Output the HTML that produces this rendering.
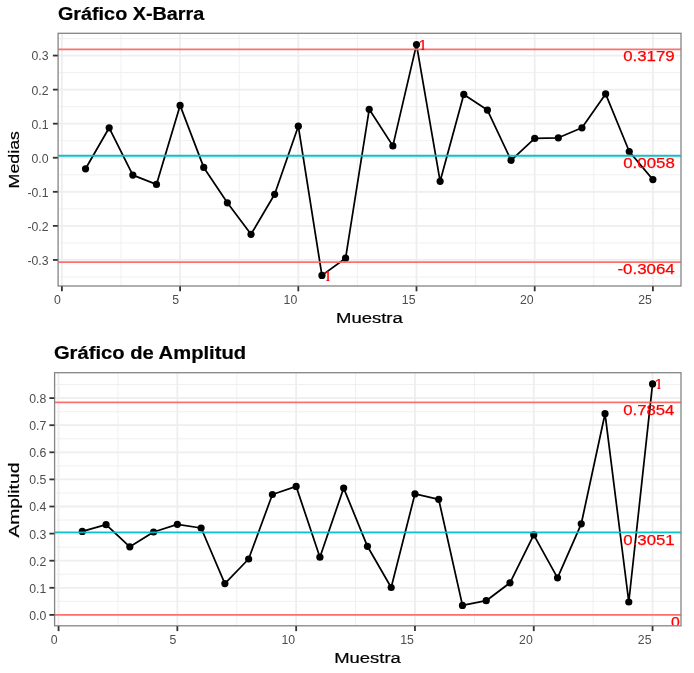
<!DOCTYPE html>
<html lang="es"><head><meta charset="utf-8"><title>Gráficos de control</title>
<style>
html,body{margin:0;padding:0;background:#fff;}
body{width:694px;height:673px;overflow:hidden;}
svg{display:block;font-family:"Liberation Sans", Arial, sans-serif;}
svg text{font-family:"Liberation Sans", Arial, sans-serif;}
</style></head><body>
<svg width="694" height="673" viewBox="0 0 694 673">
<rect width="694" height="673" fill="#fff"/>
<clipPath id="clip1"><rect x="58.10" y="33.30" width="622.90" height="252.70"/></clipPath>
<g clip-path="url(#clip1)">
<line x1="58.10" y1="276.96" x2="681.00" y2="276.96" stroke="#EEEEEE" stroke-width="0.9" />
<line x1="58.10" y1="242.90" x2="681.00" y2="242.90" stroke="#EEEEEE" stroke-width="0.9" />
<line x1="58.10" y1="208.84" x2="681.00" y2="208.84" stroke="#EEEEEE" stroke-width="0.9" />
<line x1="58.10" y1="174.78" x2="681.00" y2="174.78" stroke="#EEEEEE" stroke-width="0.9" />
<line x1="58.10" y1="140.72" x2="681.00" y2="140.72" stroke="#EEEEEE" stroke-width="0.9" />
<line x1="58.10" y1="106.66" x2="681.00" y2="106.66" stroke="#EEEEEE" stroke-width="0.9" />
<line x1="58.10" y1="72.60" x2="681.00" y2="72.60" stroke="#EEEEEE" stroke-width="0.9" />
<line x1="58.10" y1="38.54" x2="681.00" y2="38.54" stroke="#EEEEEE" stroke-width="0.9" />
<line x1="121.00" y1="33.30" x2="121.00" y2="286.00" stroke="#EEEEEE" stroke-width="0.9" />
<line x1="239.20" y1="33.30" x2="239.20" y2="286.00" stroke="#EEEEEE" stroke-width="0.9" />
<line x1="357.40" y1="33.30" x2="357.40" y2="286.00" stroke="#EEEEEE" stroke-width="0.9" />
<line x1="475.60" y1="33.30" x2="475.60" y2="286.00" stroke="#EEEEEE" stroke-width="0.9" />
<line x1="593.80" y1="33.30" x2="593.80" y2="286.00" stroke="#EEEEEE" stroke-width="0.9" />
<line x1="58.10" y1="259.93" x2="681.00" y2="259.93" stroke="#EEEEEE" stroke-width="1.8" />
<line x1="58.10" y1="225.87" x2="681.00" y2="225.87" stroke="#EEEEEE" stroke-width="1.8" />
<line x1="58.10" y1="191.81" x2="681.00" y2="191.81" stroke="#EEEEEE" stroke-width="1.8" />
<line x1="58.10" y1="157.75" x2="681.00" y2="157.75" stroke="#EEEEEE" stroke-width="1.8" />
<line x1="58.10" y1="123.69" x2="681.00" y2="123.69" stroke="#EEEEEE" stroke-width="1.8" />
<line x1="58.10" y1="89.63" x2="681.00" y2="89.63" stroke="#EEEEEE" stroke-width="1.8" />
<line x1="58.10" y1="55.57" x2="681.00" y2="55.57" stroke="#EEEEEE" stroke-width="1.8" />
<line x1="61.90" y1="33.30" x2="61.90" y2="286.00" stroke="#EEEEEE" stroke-width="1.8" />
<line x1="180.10" y1="33.30" x2="180.10" y2="286.00" stroke="#EEEEEE" stroke-width="1.8" />
<line x1="298.30" y1="33.30" x2="298.30" y2="286.00" stroke="#EEEEEE" stroke-width="1.8" />
<line x1="416.50" y1="33.30" x2="416.50" y2="286.00" stroke="#EEEEEE" stroke-width="1.8" />
<line x1="534.70" y1="33.30" x2="534.70" y2="286.00" stroke="#EEEEEE" stroke-width="1.8" />
<line x1="652.90" y1="33.30" x2="652.90" y2="286.00" stroke="#EEEEEE" stroke-width="1.8" />
<path d="M85.54,168.80 L109.18,127.80 L132.82,175.10 L156.46,184.40 L180.10,105.40 L203.74,167.40 L227.38,202.80 L251.02,234.30 L274.66,194.30 L298.30,126.20 L321.94,275.40 L345.58,258.20 L369.22,109.30 L392.86,145.90 L416.50,44.60 L440.14,181.30 L463.78,94.40 L487.42,110.10 L511.06,160.30 L534.70,138.40 L558.34,137.80 L581.98,127.80 L605.62,93.90 L629.26,151.50 L652.90,179.60" fill="none" stroke="#000" stroke-width="1.75" stroke-linejoin="round" stroke-linecap="butt"/>
<circle cx="85.54" cy="168.80" r="3.6" fill="#000"/>
<circle cx="109.18" cy="127.80" r="3.6" fill="#000"/>
<circle cx="132.82" cy="175.10" r="3.6" fill="#000"/>
<circle cx="156.46" cy="184.40" r="3.6" fill="#000"/>
<circle cx="180.10" cy="105.40" r="3.6" fill="#000"/>
<circle cx="203.74" cy="167.40" r="3.6" fill="#000"/>
<circle cx="227.38" cy="202.80" r="3.6" fill="#000"/>
<circle cx="251.02" cy="234.30" r="3.6" fill="#000"/>
<circle cx="274.66" cy="194.30" r="3.6" fill="#000"/>
<circle cx="298.30" cy="126.20" r="3.6" fill="#000"/>
<circle cx="321.94" cy="275.40" r="3.6" fill="#000"/>
<circle cx="345.58" cy="258.20" r="3.6" fill="#000"/>
<circle cx="369.22" cy="109.30" r="3.6" fill="#000"/>
<circle cx="392.86" cy="145.90" r="3.6" fill="#000"/>
<circle cx="416.50" cy="44.60" r="3.6" fill="#000"/>
<circle cx="440.14" cy="181.30" r="3.6" fill="#000"/>
<circle cx="463.78" cy="94.40" r="3.6" fill="#000"/>
<circle cx="487.42" cy="110.10" r="3.6" fill="#000"/>
<circle cx="511.06" cy="160.30" r="3.6" fill="#000"/>
<circle cx="534.70" cy="138.40" r="3.6" fill="#000"/>
<circle cx="558.34" cy="137.80" r="3.6" fill="#000"/>
<circle cx="581.98" cy="127.80" r="3.6" fill="#000"/>
<circle cx="605.62" cy="93.90" r="3.6" fill="#000"/>
<circle cx="629.26" cy="151.50" r="3.6" fill="#000"/>
<circle cx="652.90" cy="179.60" r="3.6" fill="#000"/>
<line x1="58.10" y1="49.40" x2="681.00" y2="49.40" stroke="#FC6964" stroke-width="1.75" stroke-opacity="0.95"/>
<line x1="58.10" y1="262.10" x2="681.00" y2="262.10" stroke="#FC6964" stroke-width="1.75" stroke-opacity="0.95"/>
<line x1="58.10" y1="155.70" x2="681.00" y2="155.70" stroke="#00BFC4" stroke-width="1.85" stroke-opacity="0.95"/>
<text x="623.20" y="61.45" font-size="15.4" fill="#FF0000" text-anchor="start" font-weight="normal" stroke="#FF0000" stroke-width="0.25" textLength="51.50" lengthAdjust="spacingAndGlyphs" >0.3179</text>
<text x="623.20" y="167.65" font-size="15.4" fill="#FF0000" text-anchor="start" font-weight="normal" stroke="#FF0000" stroke-width="0.25" textLength="51.60" lengthAdjust="spacingAndGlyphs" >0.0058</text>
<text x="617.40" y="274.25" font-size="15.4" fill="#FF0000" text-anchor="start" font-weight="normal" stroke="#FF0000" stroke-width="0.25" textLength="57.40" lengthAdjust="spacingAndGlyphs" >-0.3064</text>
<clipPath id="c_o1a"><polygon points="417.50,35.95 424.25,35.95 424.25,50.95 421.50,50.95 421.50,48.25 417.50,48.25"/></clipPath>
<text x="418.40" y="49.95" font-size="15.4" fill="#FF0000" text-anchor="start" font-weight="normal" stroke="#FF0000" stroke-width="0.2" clip-path="url(#c_o1a)">1</text>
<clipPath id="c_o1b"><polygon points="322.50,266.80 329.25,266.80 329.25,281.80 326.50,281.80 326.50,279.10 322.50,279.10"/></clipPath>
<text x="323.40" y="280.80" font-size="15.4" fill="#FF0000" text-anchor="start" font-weight="normal" stroke="#FF0000" stroke-width="0.2" clip-path="url(#c_o1b)">1</text>
</g>
<rect x="58.10" y="33.30" width="622.90" height="252.70" fill="none" stroke="#858585" stroke-width="1.3"/>
<line x1="52.90" y1="259.93" x2="57.80" y2="259.93" stroke="#333333" stroke-width="1.8" />
<text x="27.41" y="264.83" font-size="13.0" fill="#4D4D4D" text-anchor="start" font-weight="normal" stroke="#4D4D4D" stroke-width="0" textLength="21.19" lengthAdjust="spacingAndGlyphs" >-0.3</text>
<line x1="52.90" y1="225.87" x2="57.80" y2="225.87" stroke="#333333" stroke-width="1.8" />
<text x="27.41" y="230.77" font-size="13.0" fill="#4D4D4D" text-anchor="start" font-weight="normal" stroke="#4D4D4D" stroke-width="0" textLength="21.19" lengthAdjust="spacingAndGlyphs" >-0.2</text>
<line x1="52.90" y1="191.81" x2="57.80" y2="191.81" stroke="#333333" stroke-width="1.8" />
<text x="27.41" y="196.71" font-size="13.0" fill="#4D4D4D" text-anchor="start" font-weight="normal" stroke="#4D4D4D" stroke-width="0" textLength="21.19" lengthAdjust="spacingAndGlyphs" >-0.1</text>
<line x1="52.90" y1="157.75" x2="57.80" y2="157.75" stroke="#333333" stroke-width="1.8" />
<text x="31.50" y="162.65" font-size="13.0" fill="#4D4D4D" text-anchor="start" font-weight="normal" stroke="#4D4D4D" stroke-width="0" textLength="17.10" lengthAdjust="spacingAndGlyphs" >0.0</text>
<line x1="52.90" y1="123.69" x2="57.80" y2="123.69" stroke="#333333" stroke-width="1.8" />
<text x="31.50" y="128.59" font-size="13.0" fill="#4D4D4D" text-anchor="start" font-weight="normal" stroke="#4D4D4D" stroke-width="0" textLength="17.10" lengthAdjust="spacingAndGlyphs" >0.1</text>
<line x1="52.90" y1="89.63" x2="57.80" y2="89.63" stroke="#333333" stroke-width="1.8" />
<text x="31.50" y="94.53" font-size="13.0" fill="#4D4D4D" text-anchor="start" font-weight="normal" stroke="#4D4D4D" stroke-width="0" textLength="17.10" lengthAdjust="spacingAndGlyphs" >0.2</text>
<line x1="52.90" y1="55.57" x2="57.80" y2="55.57" stroke="#333333" stroke-width="1.8" />
<text x="31.50" y="60.47" font-size="13.0" fill="#4D4D4D" text-anchor="start" font-weight="normal" stroke="#4D4D4D" stroke-width="0" textLength="17.10" lengthAdjust="spacingAndGlyphs" >0.3</text>
<line x1="61.90" y1="286.30" x2="61.90" y2="291.30" stroke="#333333" stroke-width="1.8" />
<text x="54.06" y="304.30" font-size="13.0" fill="#4D4D4D" text-anchor="start" font-weight="normal" stroke="#4D4D4D" stroke-width="0" textLength="6.84" lengthAdjust="spacingAndGlyphs" >0</text>
<line x1="180.10" y1="286.30" x2="180.10" y2="291.30" stroke="#333333" stroke-width="1.8" />
<text x="172.26" y="304.30" font-size="13.0" fill="#4D4D4D" text-anchor="start" font-weight="normal" stroke="#4D4D4D" stroke-width="0" textLength="6.84" lengthAdjust="spacingAndGlyphs" >5</text>
<line x1="298.30" y1="286.30" x2="298.30" y2="291.30" stroke="#333333" stroke-width="1.8" />
<text x="283.62" y="304.30" font-size="13.0" fill="#4D4D4D" text-anchor="start" font-weight="normal" stroke="#4D4D4D" stroke-width="0" textLength="13.68" lengthAdjust="spacingAndGlyphs" >10</text>
<line x1="416.50" y1="286.30" x2="416.50" y2="291.30" stroke="#333333" stroke-width="1.8" />
<text x="401.82" y="304.30" font-size="13.0" fill="#4D4D4D" text-anchor="start" font-weight="normal" stroke="#4D4D4D" stroke-width="0" textLength="13.68" lengthAdjust="spacingAndGlyphs" >15</text>
<line x1="534.70" y1="286.30" x2="534.70" y2="291.30" stroke="#333333" stroke-width="1.8" />
<text x="520.02" y="304.30" font-size="13.0" fill="#4D4D4D" text-anchor="start" font-weight="normal" stroke="#4D4D4D" stroke-width="0" textLength="13.68" lengthAdjust="spacingAndGlyphs" >20</text>
<line x1="652.90" y1="286.30" x2="652.90" y2="291.30" stroke="#333333" stroke-width="1.8" />
<text x="638.22" y="304.30" font-size="13.0" fill="#4D4D4D" text-anchor="start" font-weight="normal" stroke="#4D4D4D" stroke-width="0" textLength="13.68" lengthAdjust="spacingAndGlyphs" >25</text>
<text x="57.90" y="19.80" font-size="18.7" fill="#000" text-anchor="start" font-weight="bold" stroke="#000" stroke-width="0.2" textLength="146.40" lengthAdjust="spacingAndGlyphs" >Gráfico X-Barra</text>
<text x="19.00" y="188.40" font-size="15.5" fill="#000" text-anchor="start" font-weight="normal" stroke="#000" stroke-width="0.2" textLength="57.40" lengthAdjust="spacingAndGlyphs" transform="rotate(-90 19.00 188.40)" >Medias</text>
<text x="336.00" y="323.30" font-size="15.5" fill="#000" text-anchor="start" font-weight="normal" stroke="#000" stroke-width="0.2" textLength="66.70" lengthAdjust="spacingAndGlyphs" >Muestra</text>
<clipPath id="clip2"><rect x="54.60" y="372.70" width="626.40" height="253.10"/></clipPath>
<g clip-path="url(#clip2)">
<line x1="54.60" y1="601.35" x2="681.00" y2="601.35" stroke="#EEEEEE" stroke-width="0.9" />
<line x1="54.60" y1="574.25" x2="681.00" y2="574.25" stroke="#EEEEEE" stroke-width="0.9" />
<line x1="54.60" y1="547.15" x2="681.00" y2="547.15" stroke="#EEEEEE" stroke-width="0.9" />
<line x1="54.60" y1="520.05" x2="681.00" y2="520.05" stroke="#EEEEEE" stroke-width="0.9" />
<line x1="54.60" y1="492.95" x2="681.00" y2="492.95" stroke="#EEEEEE" stroke-width="0.9" />
<line x1="54.60" y1="465.85" x2="681.00" y2="465.85" stroke="#EEEEEE" stroke-width="0.9" />
<line x1="54.60" y1="438.75" x2="681.00" y2="438.75" stroke="#EEEEEE" stroke-width="0.9" />
<line x1="54.60" y1="411.65" x2="681.00" y2="411.65" stroke="#EEEEEE" stroke-width="0.9" />
<line x1="54.60" y1="384.55" x2="681.00" y2="384.55" stroke="#EEEEEE" stroke-width="0.9" />
<line x1="117.95" y1="372.70" x2="117.95" y2="625.80" stroke="#EEEEEE" stroke-width="0.9" />
<line x1="236.75" y1="372.70" x2="236.75" y2="625.80" stroke="#EEEEEE" stroke-width="0.9" />
<line x1="355.55" y1="372.70" x2="355.55" y2="625.80" stroke="#EEEEEE" stroke-width="0.9" />
<line x1="474.35" y1="372.70" x2="474.35" y2="625.80" stroke="#EEEEEE" stroke-width="0.9" />
<line x1="593.15" y1="372.70" x2="593.15" y2="625.80" stroke="#EEEEEE" stroke-width="0.9" />
<line x1="54.60" y1="614.90" x2="681.00" y2="614.90" stroke="#EEEEEE" stroke-width="1.8" />
<line x1="54.60" y1="587.80" x2="681.00" y2="587.80" stroke="#EEEEEE" stroke-width="1.8" />
<line x1="54.60" y1="560.70" x2="681.00" y2="560.70" stroke="#EEEEEE" stroke-width="1.8" />
<line x1="54.60" y1="533.60" x2="681.00" y2="533.60" stroke="#EEEEEE" stroke-width="1.8" />
<line x1="54.60" y1="506.50" x2="681.00" y2="506.50" stroke="#EEEEEE" stroke-width="1.8" />
<line x1="54.60" y1="479.40" x2="681.00" y2="479.40" stroke="#EEEEEE" stroke-width="1.8" />
<line x1="54.60" y1="452.30" x2="681.00" y2="452.30" stroke="#EEEEEE" stroke-width="1.8" />
<line x1="54.60" y1="425.20" x2="681.00" y2="425.20" stroke="#EEEEEE" stroke-width="1.8" />
<line x1="54.60" y1="398.10" x2="681.00" y2="398.10" stroke="#EEEEEE" stroke-width="1.8" />
<line x1="58.55" y1="372.70" x2="58.55" y2="625.80" stroke="#EEEEEE" stroke-width="1.8" />
<line x1="177.35" y1="372.70" x2="177.35" y2="625.80" stroke="#EEEEEE" stroke-width="1.8" />
<line x1="296.15" y1="372.70" x2="296.15" y2="625.80" stroke="#EEEEEE" stroke-width="1.8" />
<line x1="414.95" y1="372.70" x2="414.95" y2="625.80" stroke="#EEEEEE" stroke-width="1.8" />
<line x1="533.75" y1="372.70" x2="533.75" y2="625.80" stroke="#EEEEEE" stroke-width="1.8" />
<line x1="652.55" y1="372.70" x2="652.55" y2="625.80" stroke="#EEEEEE" stroke-width="1.8" />
<path d="M82.31,531.40 L106.07,524.70 L129.83,546.80 L153.59,532.00 L177.35,524.30 L201.11,528.00 L224.87,583.60 L248.63,559.00 L272.39,494.50 L296.15,486.40 L319.91,557.20 L343.67,488.10 L367.43,546.30 L391.19,587.50 L414.95,493.90 L438.71,499.30 L462.47,605.40 L486.23,600.70 L509.99,582.80 L533.75,534.90 L557.51,577.80 L581.27,523.80 L605.03,413.70 L628.79,602.00 L652.55,383.90" fill="none" stroke="#000" stroke-width="1.75" stroke-linejoin="round" stroke-linecap="butt"/>
<circle cx="82.31" cy="531.40" r="3.6" fill="#000"/>
<circle cx="106.07" cy="524.70" r="3.6" fill="#000"/>
<circle cx="129.83" cy="546.80" r="3.6" fill="#000"/>
<circle cx="153.59" cy="532.00" r="3.6" fill="#000"/>
<circle cx="177.35" cy="524.30" r="3.6" fill="#000"/>
<circle cx="201.11" cy="528.00" r="3.6" fill="#000"/>
<circle cx="224.87" cy="583.60" r="3.6" fill="#000"/>
<circle cx="248.63" cy="559.00" r="3.6" fill="#000"/>
<circle cx="272.39" cy="494.50" r="3.6" fill="#000"/>
<circle cx="296.15" cy="486.40" r="3.6" fill="#000"/>
<circle cx="319.91" cy="557.20" r="3.6" fill="#000"/>
<circle cx="343.67" cy="488.10" r="3.6" fill="#000"/>
<circle cx="367.43" cy="546.30" r="3.6" fill="#000"/>
<circle cx="391.19" cy="587.50" r="3.6" fill="#000"/>
<circle cx="414.95" cy="493.90" r="3.6" fill="#000"/>
<circle cx="438.71" cy="499.30" r="3.6" fill="#000"/>
<circle cx="462.47" cy="605.40" r="3.6" fill="#000"/>
<circle cx="486.23" cy="600.70" r="3.6" fill="#000"/>
<circle cx="509.99" cy="582.80" r="3.6" fill="#000"/>
<circle cx="533.75" cy="534.90" r="3.6" fill="#000"/>
<circle cx="557.51" cy="577.80" r="3.6" fill="#000"/>
<circle cx="581.27" cy="523.80" r="3.6" fill="#000"/>
<circle cx="605.03" cy="413.70" r="3.6" fill="#000"/>
<circle cx="628.79" cy="602.00" r="3.6" fill="#000"/>
<circle cx="652.55" cy="383.90" r="3.6" fill="#000"/>
<line x1="54.60" y1="402.30" x2="681.00" y2="402.30" stroke="#FC6964" stroke-width="1.75" stroke-opacity="0.95"/>
<line x1="54.60" y1="614.90" x2="681.00" y2="614.90" stroke="#FC6964" stroke-width="1.75" stroke-opacity="0.95"/>
<line x1="54.60" y1="532.30" x2="681.00" y2="532.30" stroke="#00BFC4" stroke-width="1.85" stroke-opacity="0.95"/>
<text x="623.30" y="414.65" font-size="15.4" fill="#FF0000" text-anchor="start" font-weight="normal" stroke="#FF0000" stroke-width="0.25" textLength="51.10" lengthAdjust="spacingAndGlyphs" >0.7854</text>
<text x="623.30" y="544.85" font-size="15.4" fill="#FF0000" text-anchor="start" font-weight="normal" stroke="#FF0000" stroke-width="0.25" textLength="51.40" lengthAdjust="spacingAndGlyphs" >0.3051</text>
<text x="671.10" y="627.25" font-size="15.4" fill="#FF0000" text-anchor="start" font-weight="normal" stroke="#FF0000" stroke-width="0.25" textLength="8.80" lengthAdjust="spacingAndGlyphs" >0</text>
<clipPath id="c_o2a"><polygon points="653.50,375.30 660.25,375.30 660.25,390.30 657.50,390.30 657.50,387.60 653.50,387.60"/></clipPath>
<text x="654.40" y="389.30" font-size="15.4" fill="#FF0000" text-anchor="start" font-weight="normal" stroke="#FF0000" stroke-width="0.2" clip-path="url(#c_o2a)">1</text>
</g>
<rect x="54.60" y="372.70" width="626.40" height="253.10" fill="none" stroke="#858585" stroke-width="1.3"/>
<line x1="49.40" y1="614.90" x2="54.30" y2="614.90" stroke="#333333" stroke-width="1.8" />
<text x="29.20" y="619.80" font-size="13.0" fill="#4D4D4D" text-anchor="start" font-weight="normal" stroke="#4D4D4D" stroke-width="0" textLength="17.10" lengthAdjust="spacingAndGlyphs" >0.0</text>
<line x1="49.40" y1="587.80" x2="54.30" y2="587.80" stroke="#333333" stroke-width="1.8" />
<text x="29.20" y="592.70" font-size="13.0" fill="#4D4D4D" text-anchor="start" font-weight="normal" stroke="#4D4D4D" stroke-width="0" textLength="17.10" lengthAdjust="spacingAndGlyphs" >0.1</text>
<line x1="49.40" y1="560.70" x2="54.30" y2="560.70" stroke="#333333" stroke-width="1.8" />
<text x="29.20" y="565.60" font-size="13.0" fill="#4D4D4D" text-anchor="start" font-weight="normal" stroke="#4D4D4D" stroke-width="0" textLength="17.10" lengthAdjust="spacingAndGlyphs" >0.2</text>
<line x1="49.40" y1="533.60" x2="54.30" y2="533.60" stroke="#333333" stroke-width="1.8" />
<text x="29.20" y="538.50" font-size="13.0" fill="#4D4D4D" text-anchor="start" font-weight="normal" stroke="#4D4D4D" stroke-width="0" textLength="17.10" lengthAdjust="spacingAndGlyphs" >0.3</text>
<line x1="49.40" y1="506.50" x2="54.30" y2="506.50" stroke="#333333" stroke-width="1.8" />
<text x="29.20" y="511.40" font-size="13.0" fill="#4D4D4D" text-anchor="start" font-weight="normal" stroke="#4D4D4D" stroke-width="0" textLength="17.10" lengthAdjust="spacingAndGlyphs" >0.4</text>
<line x1="49.40" y1="479.40" x2="54.30" y2="479.40" stroke="#333333" stroke-width="1.8" />
<text x="29.20" y="484.30" font-size="13.0" fill="#4D4D4D" text-anchor="start" font-weight="normal" stroke="#4D4D4D" stroke-width="0" textLength="17.10" lengthAdjust="spacingAndGlyphs" >0.5</text>
<line x1="49.40" y1="452.30" x2="54.30" y2="452.30" stroke="#333333" stroke-width="1.8" />
<text x="29.20" y="457.20" font-size="13.0" fill="#4D4D4D" text-anchor="start" font-weight="normal" stroke="#4D4D4D" stroke-width="0" textLength="17.10" lengthAdjust="spacingAndGlyphs" >0.6</text>
<line x1="49.40" y1="425.20" x2="54.30" y2="425.20" stroke="#333333" stroke-width="1.8" />
<text x="29.20" y="430.10" font-size="13.0" fill="#4D4D4D" text-anchor="start" font-weight="normal" stroke="#4D4D4D" stroke-width="0" textLength="17.10" lengthAdjust="spacingAndGlyphs" >0.7</text>
<line x1="49.40" y1="398.10" x2="54.30" y2="398.10" stroke="#333333" stroke-width="1.8" />
<text x="29.20" y="403.00" font-size="13.0" fill="#4D4D4D" text-anchor="start" font-weight="normal" stroke="#4D4D4D" stroke-width="0" textLength="17.10" lengthAdjust="spacingAndGlyphs" >0.8</text>
<line x1="58.55" y1="626.10" x2="58.55" y2="631.10" stroke="#333333" stroke-width="1.8" />
<text x="50.71" y="644.30" font-size="13.0" fill="#4D4D4D" text-anchor="start" font-weight="normal" stroke="#4D4D4D" stroke-width="0" textLength="6.84" lengthAdjust="spacingAndGlyphs" >0</text>
<line x1="177.35" y1="626.10" x2="177.35" y2="631.10" stroke="#333333" stroke-width="1.8" />
<text x="169.51" y="644.30" font-size="13.0" fill="#4D4D4D" text-anchor="start" font-weight="normal" stroke="#4D4D4D" stroke-width="0" textLength="6.84" lengthAdjust="spacingAndGlyphs" >5</text>
<line x1="296.15" y1="626.10" x2="296.15" y2="631.10" stroke="#333333" stroke-width="1.8" />
<text x="281.47" y="644.30" font-size="13.0" fill="#4D4D4D" text-anchor="start" font-weight="normal" stroke="#4D4D4D" stroke-width="0" textLength="13.68" lengthAdjust="spacingAndGlyphs" >10</text>
<line x1="414.95" y1="626.10" x2="414.95" y2="631.10" stroke="#333333" stroke-width="1.8" />
<text x="400.27" y="644.30" font-size="13.0" fill="#4D4D4D" text-anchor="start" font-weight="normal" stroke="#4D4D4D" stroke-width="0" textLength="13.68" lengthAdjust="spacingAndGlyphs" >15</text>
<line x1="533.75" y1="626.10" x2="533.75" y2="631.10" stroke="#333333" stroke-width="1.8" />
<text x="519.07" y="644.30" font-size="13.0" fill="#4D4D4D" text-anchor="start" font-weight="normal" stroke="#4D4D4D" stroke-width="0" textLength="13.68" lengthAdjust="spacingAndGlyphs" >20</text>
<line x1="652.55" y1="626.10" x2="652.55" y2="631.10" stroke="#333333" stroke-width="1.8" />
<text x="637.87" y="644.30" font-size="13.0" fill="#4D4D4D" text-anchor="start" font-weight="normal" stroke="#4D4D4D" stroke-width="0" textLength="13.68" lengthAdjust="spacingAndGlyphs" >25</text>
<text x="53.90" y="359.00" font-size="18.7" fill="#000" text-anchor="start" font-weight="bold" stroke="#000" stroke-width="0.2" textLength="192.20" lengthAdjust="spacingAndGlyphs" >Gráfico de Amplitud</text>
<text x="19.00" y="537.60" font-size="15.5" fill="#000" text-anchor="start" font-weight="normal" stroke="#000" stroke-width="0.2" textLength="75.00" lengthAdjust="spacingAndGlyphs" transform="rotate(-90 19.00 537.60)" >Amplitud</text>
<text x="334.20" y="662.60" font-size="15.5" fill="#000" text-anchor="start" font-weight="normal" stroke="#000" stroke-width="0.2" textLength="66.60" lengthAdjust="spacingAndGlyphs" >Muestra</text>
</svg>
</body></html>
